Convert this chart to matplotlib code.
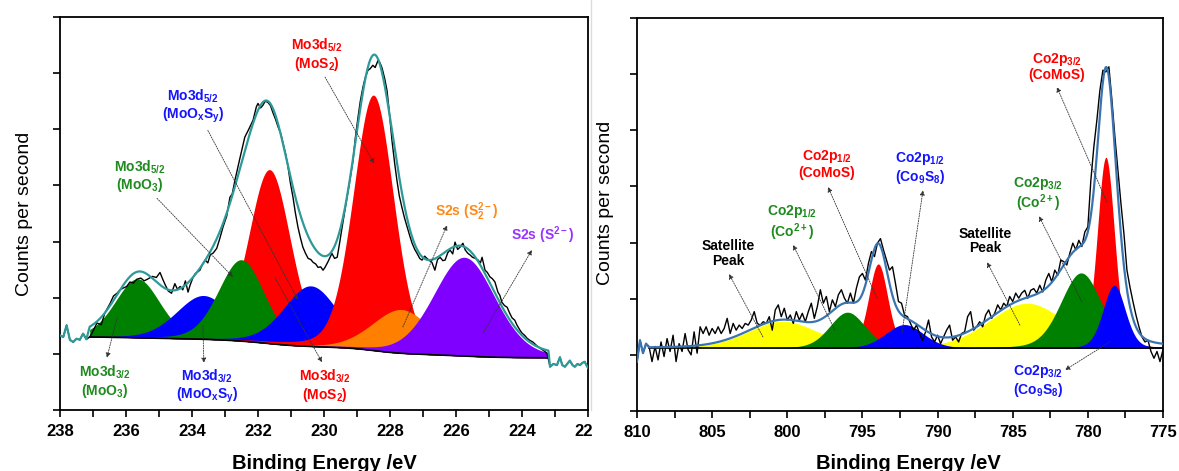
import numpy as np
import matplotlib
matplotlib.use("Agg")
import matplotlib.pyplot as plt
from matplotlib.lines import Line2D
from matplotlib.patches import Rectangle

plt.rcParams['font.family'] = ['Liberation Sans', 'DejaVu Sans']
plt.rcParams['mathtext.fontset'] = 'custom'
plt.rcParams['mathtext.rm'] = 'Liberation Sans:bold'
plt.rcParams['mathtext.bf'] = 'Liberation Sans:bold'
plt.rcParams['mathtext.it'] = 'Liberation Sans:bold'
plt.rcParams['mathtext.sf'] = 'Liberation Sans:bold'
plt.rcParams['mathtext.default'] = 'rm'

# ---------------- Mo 3d / S 2s (left) ----------------
mo_raw_E = [238.00, 237.90, 237.80, 237.70, 237.60, 237.50, 237.40, 237.30, 237.20, 237.10,
            237.03, 236.88, 236.75, 236.64, 236.48, 236.38, 236.27, 236.18, 236.09, 235.98,
            235.88, 235.78, 235.67, 235.55, 235.45, 235.35, 235.20, 235.08, 234.97, 234.88,
            234.82, 234.72, 234.62, 234.52, 234.44, 234.36, 234.28, 234.20, 234.12, 234.06,
            233.97, 233.90, 233.76, 233.68, 233.60, 233.52, 233.45, 233.35, 233.25, 233.16,
            233.06, 232.95, 232.85, 232.78, 232.70, 232.62, 232.55, 232.40, 232.28, 232.15,
            232.05, 232.00, 231.92, 231.85, 231.78, 231.70, 231.62, 231.55, 231.47, 231.39,
            231.31, 231.24, 231.16, 231.09, 231.02, 230.94, 230.87, 230.79, 230.72, 230.64,
            230.56, 230.48, 230.40, 230.33, 230.25, 230.18, 230.10, 230.03, 229.97, 229.88,
            229.76, 229.68, 229.60, 229.52, 229.45, 229.36, 229.27, 229.20, 229.12, 229.05,
            228.97, 228.90, 228.82, 228.75, 228.67, 228.60, 228.52, 228.45, 228.36, 228.30,
            228.24, 228.16, 228.09, 228.02, 227.94, 227.86, 227.79, 227.72, 227.64, 227.56,
            227.48, 227.40, 227.33, 227.25, 227.18, 227.10, 227.03, 226.95, 226.88, 226.80,
            226.73, 226.64, 226.56, 226.48, 226.40, 226.33, 226.25, 226.18, 226.10, 226.03,
            225.95, 225.88, 225.79, 225.72, 225.64, 225.57, 225.50, 225.41, 225.33, 225.26,
            225.21, 225.12, 225.05, 224.97, 224.90, 224.82, 224.73, 224.67, 224.61, 224.53,
            224.45, 224.37, 224.30, 224.22, 224.15, 224.07, 224.00, 223.92, 223.85, 223.76,
            223.67, 223.56, 223.45, 223.35, 223.24, 223.15, 223.05, 222.94, 222.85, 222.78,
            222.70, 222.62, 222.55, 222.47, 222.40, 222.32, 222.24, 222.17, 222.10, 222.05,
            222.00]
mo_raw_cps = [1.33, 1.30, 1.51, 1.25, 1.21, 1.27, 1.25, 1.36, 1.26, 1.30,
              1.37, 1.55, 1.52, 1.73, 1.90, 2.03, 2.08, 2.14, 2.17, 2.20,
              2.28, 2.26, 2.33, 2.35, 2.30, 2.33, 2.38, 2.36, 2.45, 2.32,
              2.24, 2.12, 2.08, 2.25, 2.15, 2.20, 2.14, 2.30, 2.10, 2.22,
              2.36, 2.43, 2.49, 2.60, 2.67, 2.62, 2.76, 2.80, 2.88, 3.05,
              3.26, 3.45, 3.79, 3.85, 4.09, 4.30, 4.48, 4.86, 5.00, 5.16,
              5.40, 5.46, 5.38, 5.43, 5.50, 5.48, 5.42, 5.30, 5.18, 5.04,
              4.92, 4.75, 4.55, 4.33, 4.05, 3.79, 3.52, 3.26, 3.08, 2.90,
              2.79, 2.70, 2.68, 2.63, 2.60, 2.54, 2.55, 2.49, 2.54, 2.64,
              2.79, 2.70, 2.72, 3.00, 3.26, 3.58, 3.91, 4.15, 4.45, 4.85,
              5.21, 5.50, 5.75, 5.92, 6.05, 6.08, 6.14, 6.10, 6.23, 6.18,
              6.09, 5.90, 5.69, 5.30, 4.80, 4.40, 4.09, 3.82, 3.61, 3.42,
              3.26, 3.10, 2.97, 2.86, 2.79, 2.70, 2.67, 2.74, 2.70, 2.66,
              2.63, 2.49, 2.68, 2.72, 2.66, 2.67, 2.80, 2.85, 2.78, 2.99,
              2.86, 2.90, 2.97, 2.85, 2.79, 2.76, 2.72, 2.70, 2.67, 2.62,
              2.72, 2.49, 2.45, 2.37, 2.34, 2.28, 2.10, 2.04, 1.92, 1.86,
              1.83, 1.72, 1.64, 1.60, 1.51, 1.43, 1.37, 1.33, 1.28, 1.24,
              1.21, 1.15, 1.10, 1.06, 1.01, 0.77, 0.82, 0.80, 0.94, 0.80,
              0.77, 0.83, 0.88, 0.80, 0.77, 0.82, 0.80, 0.84, 0.86, 0.80,
              0.75]

mo_names = ["Mo3d3/2 MoO3", "Mo3d3/2 MoOxSy", "Mo3d3/2 MoS2", "Mo3d5/2 MoO3",
            "Mo3d5/2 MoOxSy", "Mo3d5/2 MoS2", "S2s S2^2-", "S2s S2-"]
mo_center = [235.65, 233.65, 231.65, 232.50, 230.40, 228.50, 227.65, 225.75]
mo_height = [1.05, 0.78, 3.10, 1.45, 1.08, 4.55, 0.78, 1.76]
mo_fwhm = [1.60, 1.95, 1.50, 1.65, 1.95, 1.45, 2.10, 2.20]
mo_colors = ["#008000", "#0000ff", "#ff0000", "#008000", "#0000ff", "#ff0000", "#ff8000", "#8000ff"]
mo_bg_hi, mo_bg_lo = 1.30, 0.93
mo_fit_range = (237.10, 223.20)

# ---------------- Co 2p (right) ----------------
co_raw_cps = [0.88, 1.26, 1.03, 1.20, 1.15, 0.88, 1.15, 0.91, 1.23, 0.97,
              1.29, 1.06, 1.35, 0.88, 1.20, 1.06, 1.38, 1.09, 1.00, 1.41,
              1.03, 1.50, 1.38, 1.50, 1.35, 1.47, 1.38, 1.50, 1.38, 1.47,
              1.65, 1.38, 1.56, 1.44, 1.53, 1.47, 1.56, 1.53, 1.62, 1.77,
              1.56, 1.53, 1.59, 1.56, 1.68, 1.44, 1.80, 1.89, 1.68, 1.83,
              1.62, 1.71, 1.56, 1.77, 1.62, 1.74, 1.59, 1.77, 1.92, 1.65,
              1.86, 2.16, 1.92, 2.04, 1.77, 1.98, 1.86, 2.07, 2.16, 2.01,
              1.92, 2.10, 1.92, 2.19, 2.39, 2.45, 2.33, 2.63, 2.84, 2.75,
              2.99, 3.07, 2.87, 2.69, 2.51, 2.57, 2.27, 1.95, 1.92, 1.71,
              1.68, 1.56, 1.44, 1.53, 1.38, 1.26, 1.41, 1.62, 1.32, 1.23,
              1.35, 1.20, 1.32, 1.44, 1.53, 1.26, 1.32, 1.23, 1.38, 1.41,
              1.68, 1.77, 1.44, 1.50, 1.59, 1.50, 1.71, 1.80, 1.65, 1.74,
              1.89, 1.80, 1.92, 1.86, 2.04, 1.95, 2.10, 2.01, 2.10, 2.15,
              2.01, 2.15, 2.18, 2.10, 2.24, 2.12, 2.33, 2.45, 2.30, 2.51,
              2.42, 2.69, 2.66, 2.60, 2.81, 2.99, 2.87, 3.04, 2.93, 3.19,
              3.28, 4.11, 4.71, 5.18, 5.71, 6.07, 6.04, 6.13, 5.54, 4.88,
              4.29, 3.70, 3.16, 2.51, 2.21, 1.95, 1.71, 1.50, 1.32, 1.23,
              1.26, 1.06, 0.94, 1.06, 0.88, 1.09]
co_raw_E = 810.0 - 0.2 * np.arange(len(co_raw_cps))

co_names = ["Satellite 1", "Satellite 2", "Co2p1/2 CoMoS", "Co2p3/2 CoMoS",
            "Co2p1/2 Co2+", "Co2p3/2 Co2+", "Co2p1/2 Co9S8", "Co2p3/2 Co9S8"]
co_center = [800.30, 784.05, 793.95, 778.80, 796.00, 780.45, 792.20, 778.25]
co_height = [0.48, 0.80, 1.50, 3.40, 0.64, 1.34, 0.42, 1.12]
co_fwhm = [5.50, 6.00, 1.50, 1.35, 2.80, 3.20, 3.00, 1.75]
co_colors = ["#ffff00", "#ffff00", "#ff0000", "#ff0000", "#008000", "#008000", "#0000ff", "#0000ff"]
co_bg = 1.12
co_fit_range = (809.20, 775.00)

GL_MIX = 0.2


def pv(x, c, h, w, m=GL_MIX):
    d = (x - c) / w
    return h * ((1 - m) * np.exp(-4 * np.log(2) * d * d) + m / (1 + 4 * d * d))


fig = plt.figure(figsize=(11.79, 4.71), dpi=100)
W, H = 1179.0, 471.0
axL = fig.add_axes([60 / W, 1 - 410 / H, 528 / W, 393 / H])
axR = fig.add_axes([637 / W, 1 - 411 / H, 526 / W, 393 / H])


def style_axes(ax, xlim, major, minor):
    ax.set_xlim(*xlim)
    ax.set_ylim(0, 7)
    ax.set_xticks(np.arange(min(xlim), max(xlim) + 0.01, major))
    ax.set_xticks(np.arange(min(xlim), max(xlim) + 0.01, minor), minor=True)
    ax.set_yticks(np.arange(0, 7.01, 1))
    ax.set_yticklabels([])
    ax.tick_params(axis='both', which='both', direction='out', length=5, width=1.2,
                   top=False, right=False)
    ax.tick_params(axis='x', which='major', labelsize=12, pad=5)
    for lab in ax.get_xticklabels():
        lab.set_fontweight('bold')
    for s in ax.spines.values():
        s.set_linewidth(1.3)


def draw_panel(ax, rawE, rawV, centers, heights, fwhms, colors, fit_range, env_color, bg_kind):
    e_hi, e_lo = fit_range
    x = np.linspace(e_lo, e_hi, 900)
    comps = [pv(x, c, h, w) for c, h, w in zip(centers, heights, fwhms)]
    total = np.sum(comps, axis=0)
    if bg_kind[0] == 'shirley':
        b_hi, b_lo = bg_kind[1], bg_kind[2]
        cum = np.concatenate([[0], np.cumsum(0.5 * (total[1:] + total[:-1]) * np.diff(x))])
        bg = b_lo + (b_hi - b_lo) * cum / cum[-1]
    else:
        bg = np.full_like(x, bg_kind[1])
    rawE = np.asarray(rawE)
    rawV = np.asarray(rawV)
    ax.plot(rawE, rawV, color='black', lw=1.0, zorder=3)
    for comp, col in zip(comps, colors):
        ax.fill_between(x, bg, bg + comp, color=col, lw=0, zorder=2)
    ax.plot(x, bg, color='black', lw=1.2, zorder=2.5)
    env = bg + total
    left = rawE > e_hi
    right = rawE < e_lo
    ex = np.concatenate([rawE[left], x[::-1], rawE[right]])
    ey = np.concatenate([rawV[left], env[::-1], rawV[right]])
    ax.plot(ex, ey, color=env_color, lw=1.6, zorder=4)


draw_panel(axL, mo_raw_E, mo_raw_cps, mo_center, mo_height, mo_fwhm, mo_colors,
           mo_fit_range, '#2e9999', ('shirley', mo_bg_hi, mo_bg_lo))
draw_panel(axR, co_raw_E, co_raw_cps, co_center, co_height, co_fwhm, co_colors,
           co_fit_range, '#3a74b0', ('flat', co_bg))

style_axes(axL, (238, 222), 2, 1)
style_axes(axR, (810, 775), 5, 2.5)

ARW = dict(arrowstyle='-|>', color='#333333', lw=0.6, linestyle=(0, (1.5, 1.5)),
           mutation_scale=7, shrinkA=0, shrinkB=0)


def label(ax, text, pos, color, tail, head, size=10):
    ax.text(pos[0], pos[1], text, color=color, fontsize=size, fontweight='bold',
            ha='center', va='center', linespacing=1.05, zorder=6)
    ax.annotate('', xy=head, xytext=tail, arrowprops=ARW, zorder=6)


GREEN_T = '#1f8a1f'
BLUE_T = '#1414ff'
RED_T = '#ff0000'
ORANGE_T = '#ff8a1a'
PURPLE_T = '#9933ff'

label(axL, "Mo3d$_{5/2}$\n(MoO$_3$)", (235.58, 4.16), GREEN_T, (235.06, 3.77), (232.76, 2.37))
label(axL, "Mo3d$_{5/2}$\n(MoO$_x$S$_y$)", (233.97, 5.41), BLUE_T, (233.52, 4.98), (230.79, 1.96))
label(axL, "Mo3d$_{5/2}$\n(MoS$_2$)", (230.21, 6.33), RED_T, (229.97, 5.93), (228.48, 4.39))
label(axL, "S2s (S$_2^{2-}$)", (225.67, 3.54), ORANGE_T, (227.61, 1.48), (226.27, 3.29))
label(axL, "S2s (S$^{2-}$)", (223.36, 3.11), PURPLE_T, (225.18, 1.37), (223.70, 2.85))
label(axL, "Mo3d$_{3/2}$\n(MoO$_3$)", (236.64, 0.50), GREEN_T, (236.27, 1.64), (236.58, 0.93))
label(axL, "Mo3d$_{3/2}$\n(MoO$_x$S$_y$)", (233.55, 0.43), BLUE_T, (233.67, 1.51), (233.64, 0.84))
label(axL, "Mo3d$_{3/2}$\n(MoS$_2$)", (229.97, 0.43), RED_T, (231.48, 2.35), (230.06, 0.85))

label(axR, "Satellite\nPeak", (803.95, 2.81), 'black', (801.62, 1.32), (803.88, 2.44))
label(axR, "Co2p$_{1/2}$\n(Co$^{2+}$)", (799.69, 3.35), GREEN_T, (796.83, 1.44), (799.62, 2.96))
label(axR, "Co2p$_{1/2}$\n(CoMoS)", (797.36, 4.40), RED_T, (794.03, 2.01), (797.29, 3.99))
label(axR, "Co2p$_{1/2}$\n(Co$_9$S$_8$)", (791.17, 4.33), BLUE_T, (792.37, 1.39), (790.97, 3.93))
label(axR, "Satellite\nPeak", (786.85, 3.03), 'black', (784.52, 1.53), (786.71, 2.65))
label(axR, "Co2p$_{3/2}$\n(Co$^{2+}$)", (783.32, 3.86), GREEN_T, (780.39, 1.94), (783.25, 3.47))
label(axR, "Co2p$_{3/2}$\n(CoMoS)", (782.06, 6.14), RED_T, (778.73, 3.72), (782.06, 5.77))
label(axR, "Co2p$_{3/2}$\n(Co$_9$S$_8$)", (783.32, 0.53), BLUE_T, (778.53, 1.23), (781.52, 0.73))

# axis titles
fig.text(324 / W, 1 - 469 / H, "Binding Energy /eV", ha='center', va='baseline',
         fontsize=14.5, fontweight='bold')
fig.text(908 / W, 1 - 469 / H, "Binding Energy /eV", ha='center', va='baseline',
         fontsize=14.5, fontweight='bold')
fig.text(25 / W, 1 - 214 / H, "Counts per second", ha='center', va='center',
         rotation=90, fontsize=14)
fig.text(605 / W, 1 - 203 / H, "Counts per second", ha='center', va='center',
         rotation=90, fontsize=14)

# edge of the left image (cuts the last tick label) and faint separator
fig.patches.append(Rectangle((592 / W, 0), 22 / W, 56 / H, transform=fig.transFigure,
                             facecolor='white', edgecolor='none', zorder=10))
fig.lines.append(Line2D([591 / W, 591 / W], [1 - 410 / H, 1.0], transform=fig.transFigure,
                        color='#dcdcdc', lw=1.0, zorder=10))

fig.savefig('out.png', dpi=100)
